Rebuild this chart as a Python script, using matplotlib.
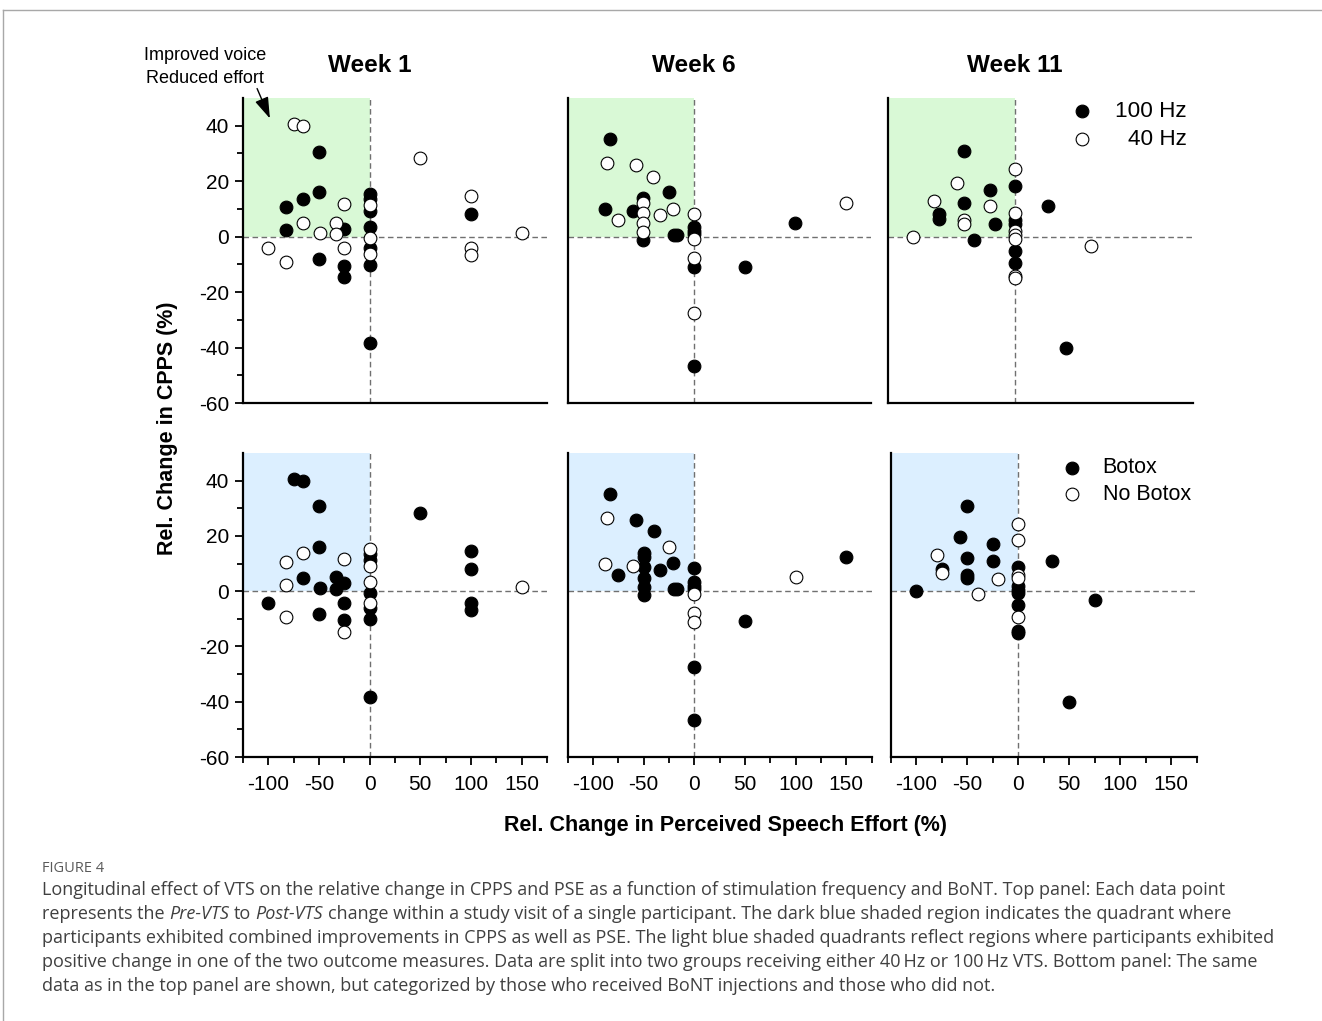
import matplotlib
matplotlib.use("Agg")
import matplotlib.pyplot as plt
from matplotlib.lines import Line2D
import numpy as np

plt.rcParams['font.family'] = ['Liberation Sans', 'DejaVu Sans']
plt.rcParams['axes.unicode_minus'] = False

# ---- data: relative change in perceived speech effort (x) and CPPS (y), per week
# flags: hz100 = 1 -> 100 Hz, 0 -> 40 Hz ; botox = 1 -> Botox, 0 -> No Botox
w1_pse = [-75, -66, 50, -50, -50, -66, -83, -83, -25, -66, -33, -49, -33, -100, -83,
          -25, -25, -50, -25, -25, 100, 100, 100, 100, 150,
          0, 0, 0, 0, 0, 0, 0, 0, 0, 0]
w1_cpps = [40.6, 40.0, 28.3, 30.7, 16.0, 13.7, 10.7, 2.3, 11.7, 4.8, 5.0, 1.2, 0.8, -4.1, -9.3,
           -4.2, 2.9, -8.1, -10.6, -14.7, 14.5, 8.0, -4.2, -6.7, 1.4,
           15.3, 13.5, 11.4, 9.2, 3.3, -0.5, -4.2, -6.1, -10.2, -38.3]
w1_hz100 = [0, 0, 0, 1, 1, 1, 1, 1, 0, 0, 0, 0, 0, 0, 0,
            0, 1, 1, 1, 1, 0, 1, 0, 0, 0,
            1, 1, 0, 1, 1, 0, 1, 0, 1, 1]
w1_botox = [1, 1, 1, 1, 1, 0, 0, 0, 0, 1, 1, 1, 1, 1, 0,
            1, 1, 1, 1, 0, 1, 1, 1, 1, 0,
            0, 1, 1, 0, 0, 1, 0, 1, 1, 1]

w6_pse = [-83, -86, -57.5, -40, -25, -50, -50, -20.5, -88, -60, -50, -33.5, -75, -50, -50,
          -50, -20, -16.5, 50, 100, 150,
          0, 0, 0, 0, 0, 0, 0, 0, 0]
w6_cpps = [35.2, 26.6, 25.7, 21.6, 16.1, 13.9, 12.3, 10.1, 9.8, 9.1, 8.6, 7.7, 5.9, 4.8, 1.6,
           -1.3, 0.7, 0.7, -10.8, 5.0, 12.2,
           8.3, 3.5, 2.0, 0.8, -1.0, -7.8, -11.0, -27.4, -46.5]
w6_hz100 = [1, 0, 0, 0, 1, 1, 0, 0, 1, 1, 0, 0, 0, 0, 0,
            1, 1, 1, 1, 1, 0,
            0, 1, 1, 1, 0, 0, 1, 0, 1]
w6_botox = [1, 0, 1, 1, 0, 1, 1, 1, 0, 0, 1, 1, 1, 1, 1,
            1, 1, 1, 1, 0, 1,
            1, 1, 1, 1, 0, 0, 0, 1, 1]

w11_pse = [-50, -57, -25, -80, -50, -25, -75, -75, -50, -50, -20, -40, -100, 33, 75, 50,
           0, 0, 0, 0, 0, 0, 0, 0, 0, 0, 0, 0]
w11_cpps = [30.9, 19.5, 17.0, 13.0, 12.0, 11.0, 8.1, 6.5, 6.0, 4.7, 4.5, -1.2, -0.1, 11.1, -3.3, -40.0,
            24.3, 18.4, 8.6, 6.0, 4.7, 2.0, 0.6, -0.8, -5.0, -9.5, -14.3, -15.0]
w11_hz100 = [1, 0, 1, 0, 1, 0, 1, 1, 0, 0, 1, 1, 0, 1, 0, 1,
             0, 1, 0, 1, 1, 0, 0, 0, 1, 1, 0, 0]
w11_botox = [1, 1, 1, 0, 1, 1, 1, 0, 1, 1, 0, 0, 1, 1, 1, 1,
             0, 0, 1, 0, 0, 1, 1, 1, 1, 0, 1, 1]

weeks = ["Week 1", "Week 6", "Week 11"]
week_data = [
    (w1_pse, w1_cpps, w1_hz100, w1_botox),
    (w6_pse, w6_cpps, w6_hz100, w6_botox),
    (w11_pse, w11_cpps, w11_hz100, w11_botox),
]
x_ticks = [-100, -50, 0, 50, 100, 150]
y_ticks = [-60, -40, -20, 0, 20, 40]
top_labels = ["100 Hz", "40 Hz"]
bottom_labels = ["Botox", "No Botox"]

W, H = 1322, 1021
fig = plt.figure(figsize=(W / 100, H / 100), dpi=100)


def px_rect(x0, y0, x1, y1):
    return [x0 / W, 1 - y1 / H, (x1 - x0) / W, (y1 - y0) / H]


top_rects = [px_rect(243, 98, 547, 403), px_rect(567.5, 98, 871, 403), px_rect(888, 98, 1192.5, 403)]
bot_rects = [px_rect(243, 453, 547, 757), px_rect(567.5, 453, 871.5, 757), px_rect(891, 453, 1196.5, 757)]

XLIM = (-125, 175)
YLIM = (-60, 50)
green = '#d9f9d6'
blue = '#dcefff'


def style_axes(ax, show_x, show_y):
    ax.set_xlim(*XLIM)
    ax.set_ylim(*YLIM)
    for s in ['top', 'right']:
        ax.spines[s].set_visible(False)
    for s in ['left', 'bottom']:
        ax.spines[s].set_linewidth(1.6)
    ax.set_xticks(x_ticks)
    ax.set_xticks(np.arange(-125, 176, 50), minor=True)
    ax.set_yticks(y_ticks)
    ax.set_yticks([-50, -30, -10, 10, 30], minor=True)
    ax.tick_params(axis='both', which='major', direction='out', length=6, width=1.3, labelsize=15)
    ax.tick_params(axis='both', which='minor', direction='out', length=4, width=1.3)
    ax.tick_params(axis='x', pad=7)
    ax.tick_params(axis='y', pad=4)
    if not show_x:
        ax.tick_params(axis='x', which='both', length=0, labelbottom=False)
    if not show_y:
        ax.tick_params(axis='y', which='both', length=0, labelleft=False)


def draw_panel(ax, pse, cpps, flag, shade):
    pse = np.array(pse)
    cpps = np.array(cpps)
    flag = np.array(flag).astype(bool)
    ax.fill_between([XLIM[0], 0], 0, YLIM[1], color=shade, lw=0, zorder=0)
    ax.axhline(0, color='#707070', lw=1.0, ls=(0, (4, 2.5)), zorder=1)
    ax.axvline(0, color='#707070', lw=1.0, ls=(0, (4, 2.5)), zorder=1)
    ax.scatter(pse[flag], cpps[flag], s=84, facecolor='black', edgecolor='black',
               linewidths=0.8, zorder=3, clip_on=False)
    ax.scatter(pse[~flag], cpps[~flag], s=84, facecolor='white', edgecolor='black',
               linewidths=0.8, zorder=4, clip_on=False)


for i, (name, (pse, cpps, hz, btx)) in enumerate(zip(weeks, week_data)):
    ax_t = fig.add_axes(top_rects[i])
    style_axes(ax_t, show_x=False, show_y=(i == 0))
    draw_panel(ax_t, pse, cpps, hz, green)
    ax_t.text(0, 1.105, name, transform=ax_t.get_xaxis_transform(), ha='center', va='center',
              fontsize=17.5, fontweight='bold')

    ax_b = fig.add_axes(bot_rects[i])
    style_axes(ax_b, show_x=True, show_y=(i == 0))
    draw_panel(ax_b, pse, cpps, btx, blue)

    if i == 2:
        # legends drawn by hand (text right-aligned on top, left-aligned below)
        for j, (lab, fc) in enumerate(zip(top_labels, ['black', 'white'])):
            yy = 0.957 - j * 0.092
            ax_t.scatter([0.638], [yy], s=84, facecolor=fc, edgecolor='black', linewidths=0.8,
                         transform=ax_t.transAxes, clip_on=False, zorder=5)
            ax_t.text(0.982, yy, lab, transform=ax_t.transAxes, ha='right', va='center', fontsize=16.2)
        for j, (lab, fc) in enumerate(zip(bottom_labels, ['black', 'white'])):
            yy = 0.951 - j * 0.086
            ax_b.scatter([0.593], [yy], s=84, facecolor=fc, edgecolor='black', linewidths=0.8,
                         transform=ax_b.transAxes, clip_on=False, zorder=5)
            ax_b.text(0.693, yy, lab, transform=ax_b.transAxes, ha='left', va='center', fontsize=15.5)

# axis labels
fig.text(167 / W, 1 - 428 / H, "Rel. Change in CPPS (%)", rotation=90, ha='center', va='center',
         fontsize=15.5, fontweight='bold')
fig.text(725 / W, 1 - 825 / H, "Rel. Change in Perceived Speech Effort (%)", ha='center', va='center',
         fontsize=15.5, fontweight='bold')

# annotation
fig.text(205 / W, 1 - 67 / H, "Improved voice\nReduced effort", ha='center', va='center',
         fontsize=13, linespacing=1.4)
fig.add_artist(matplotlib.patches.FancyArrowPatch(
    (256 / W, 1 - 86 / H), (271 / W, 1 - 121 / H), transform=fig.transFigure,
    arrowstyle='-|>,head_length=1.0,head_width=0.33', mutation_scale=13, color='black', lw=1.0))

# frame lines of the figure box
fig.add_artist(Line2D([3 / W, 1], [1 - 10 / H, 1 - 10 / H], transform=fig.transFigure,
                      color='#a8a8a8', lw=1.0))
fig.add_artist(Line2D([3 / W, 3 / W], [0, 1 - 10 / H], transform=fig.transFigure,
                      color='#a8a8a8', lw=1.0))

# caption
cap_font = ['Open Sans', 'DejaVu Sans']
cap_size = 12.95
cap_color = '#404040'
fig.text(42 / W, 1 - 868 / H, "FIGURE 4", ha='left', va='center', fontsize=10.5,
         color='#5a5a5a', family=cap_font)

renderer = fig.canvas.get_renderer()


def text_width(s, style='normal'):
    t = fig.text(0, 0, s, fontsize=cap_size, family=cap_font, style=style)
    w = t.get_window_extent(renderer).width
    t.remove()
    return w


space_w = text_width("a a") - text_width("aa")


def draw_runs(x_px, y_px, runs):
    for k, (s, style) in enumerate(runs):
        t = fig.text(x_px / W, 1 - y_px / H, s, ha='left', va='center', fontsize=cap_size,
                     family=cap_font, style=style, color=cap_color)
        x_px += t.get_window_extent(renderer).width + space_w


caption_lines = [
    [("Longitudinal effect of VTS on the relative change in CPPS and PSE as a function of stimulation "
      "frequency and BoNT. Top panel: Each data point", 'normal')],
    [("represents the", 'normal'), ("Pre-VTS", 'italic'), ("to", 'normal'), ("Post-VTS", 'italic'),
     ("change within a study visit of a single participant. The dark blue shaded region indicates "
      "the quadrant where", 'normal')],
    [("participants exhibited combined improvements in CPPS as well as PSE. The light blue shaded "
      "quadrants reflect regions where participants exhibited", 'normal')],
    [("positive change in one of the two outcome measures. Data are split into two groups receiving "
      "either 40\u2009Hz or 100\u2009Hz VTS. Bottom panel: The same", 'normal')],
    [("data as in the top panel are shown, but categorized by those who received BoNT injections "
      "and those who did not.", 'normal')],
]
for k, runs in enumerate(caption_lines):
    draw_runs(42, 890 + 24 * k, runs)

fig.savefig("out.png", dpi=100)
